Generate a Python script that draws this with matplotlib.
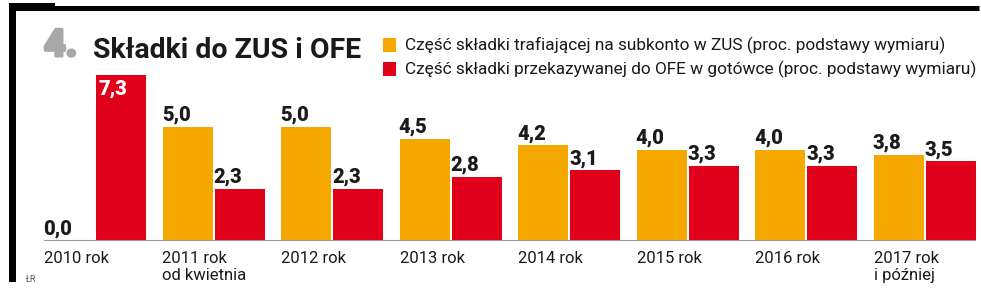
import matplotlib
matplotlib.use("Agg")
import matplotlib.pyplot as plt
import matplotlib.patheffects as pe
from matplotlib.lines import Line2D
from matplotlib.patches import Rectangle
from matplotlib import font_manager as fm

names = {f.name for f in fm.fontManager.ttflist}
SANS = 'Roboto' if 'Roboto' in names else 'DejaVu Sans'

categories = ["2010 rok", "2011 rok\nod kwietnia", "2012 rok", "2013 rok",
              "2014 rok", "2015 rok", "2016 rok", "2017 rok\ni później"]
zus = [0.0, 5.0, 5.0, 4.5, 4.2, 4.0, 4.0, 3.8]
ofe = [7.3, 2.3, 2.3, 2.8, 3.1, 3.3, 3.3, 3.5]
zus_labels = ["0,0", "5,0", "5,0", "4,5", "4,2", "4,0", "4,0", "3,8"]
ofe_labels = ["7,3", "2,3", "2,3", "2,8", "3,1", "3,3", "3,3", "3,5"]
legend_labels = ["Część składki trafiającej na subkonto w ZUS (proc. podstawy wymiaru)",
                 "Część składki przekazywanej do OFE w gotówce (proc. podstawy wymiaru)"]
title = "Składki do ZUS i OFE"

ORANGE = "#F4A800"
RED = "#E1001A"
DARK = "#1a1a1a"

W, H = 981, 296
fig = plt.figure(figsize=(W / 100, H / 100), dpi=100)

period = 118.5
barw = 50 / period
gap = 2 / period
x0 = 44
base_y = 241
ppu = 22.75
ymax = 8.0
xmax = 7 + (2 * 50 + 2) / period
ax = fig.add_axes([x0 / W, (H - base_y) / H, xmax * period / W, ymax * ppu / H])
ax.set_xlim(0, xmax)
ax.set_ylim(0, ymax)
ax.axis("off")

xs = list(range(len(categories)))
ax.bar([x for x in xs], zus, width=barw, align="edge", color=ORANGE, zorder=2)
ax.bar([x + barw + gap for x in xs], ofe, width=barw, align="edge", color=RED, zorder=2)
ax.axhline(0, color="#9a9a9a", lw=1.5, zorder=3)

VAL = dict(fontsize=14.5, fontweight="heavy", family=SANS)
for i in xs:
    ax.annotate(zus_labels[i], (i, zus[i]), xytext=(-0.5, 4.5), textcoords="offset points",
                ha="left", va="baseline", color=DARK, **VAL)
    if i == 0:
        ax.annotate(ofe_labels[i], (i + barw + gap, ofe[i]), xytext=(2, -3.5), textcoords="offset points",
                    ha="left", va="top", color="white", **VAL)
    else:
        ax.annotate(ofe_labels[i], (i + barw + gap, ofe[i]), xytext=(-0.5, 4.5), textcoords="offset points",
                    ha="left", va="baseline", color=DARK, **VAL)
    ax.annotate(categories[i], (i, 0), xytext=(0, -7), textcoords="offset points",
                ha="left", va="top", fontsize=12, color=DARK, family=SANS, linespacing=1.15)

# title
fig.text(44 / W, 1 - 56 / H, "4.", fontsize=27, fontweight="black", color="#a8a8a8",
         family=SANS, ha="left", va="baseline",
         path_effects=[pe.withStroke(linewidth=2.2, foreground="#a8a8a8")])
fig.text(93 / W, 1 - 58 / H, title, fontsize=20.5, fontweight="bold", color=DARK,
         family=SANS, ha="left", va="baseline")

# legend
for k, (lab, col) in enumerate(zip(legend_labels, [ORANGE, RED])):
    yc = 45 + k * 24
    fig.add_artist(Rectangle((383 / W, 1 - (yc + 6.5) / H), 13 / W, 13 / H,
                             transform=fig.transFigure, color=col, lw=0))
    fig.text(405 / W, 1 - yc / H, lab, fontsize=12.4, color=DARK, family=SANS,
             ha="left", va="center")

# frame
fig.add_artist(Line2D([9 / W, 979 / W], [1 - 7.5 / H] * 2, transform=fig.transFigure,
                      color="black", lw=3.6, solid_capstyle="butt"))
fig.add_artist(Rectangle((9 / W, 1 - 11 / H), 46 / W, 8 / H, transform=fig.transFigure,
                         color="black", lw=0))
fig.add_artist(Rectangle((9 / W, 1 - 282 / H), 7 / W, 279 / H, transform=fig.transFigure,
                         color="black", lw=0))
fig.text(26 / W, 1 - 279 / H, "ŁR", fontsize=6.5, color="#555555", family=SANS,
         ha="left", va="center")

fig.savefig("out.png", dpi=100)
